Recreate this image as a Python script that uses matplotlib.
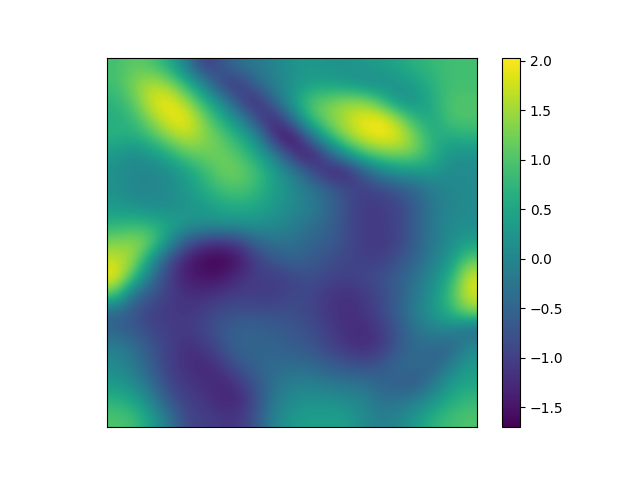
import matplotlib
matplotlib.use('Agg')
import matplotlib.pyplot as plt
import numpy as np

# values, row by row from the top
row00 = [0.9, 1.1, 1.0, 0.6, -0.1, -1.1, -0.7, -0.3, -0.2, 0.0, 0.2, 0.3, 0.2, 0.2, 0.3, 0.4, 0.5, 0.7, 0.8, 0.9, 0.9]
row01 = [0.9, 1.3, 1.6, 1.4, 0.7, 0.0, -1.0, -1.1, -0.4, -0.1, 0.2, 0.4, 0.4, 0.3, 0.1, 0.1, 0.2, 0.4, 0.7, 0.9, 0.9]
row02 = [0.7, 1.1, 1.8, 2.0, 1.5, 0.7, 0.1, -0.9, -1.3, -0.4, 0.3, 1.0, 1.2, 1.4, 1.4, 0.9, 0.2, 0.2, 0.6, 1.0, 1.0]
row03 = [0.6, 0.8, 1.4, 1.9, 2.0, 1.3, 0.6, 0.1, -0.9, -1.4, -0.3, 0.8, 1.3, 1.6, 1.95, 2.03, 1.5, 0.7, 0.5, 1.0, 1.0]
row04 = [0.7, 0.6, 0.9, 1.4, 1.7, 1.4, 1.1, 0.6, 0.1, -1.3, -1.7, -0.4, 0.7, 1.4, 1.8, 2.0, 1.9, 1.3, 0.6, 0.6, 0.7]
row05 = [0.3, 0.1, 0.3, 0.6, 1.1, 1.2, 1.2, 1.0, 0.5, -0.1, -1.1, -1.6, -0.7, 0.2, 0.9, 1.2, 1.3, 1.2, 0.7, 0.2, 0.2]
row06 = [0.2, 0.0, 0.0, 0.1, 0.4, 0.8, 1.2, 1.2, 0.9, 0.4, -0.1, -0.7, -1.3, -1.4, -0.7, -0.1, 0.2, 0.3, 0.3, 0.1, 0.1]
row07 = [0.2, 0.0, 0.0, 0.1, 0.3, 0.6, 0.9, 1.0, 0.8, 0.4, 0.1, -0.2, -0.5, -0.8, -1.0, -0.9, -0.7, -0.5, -0.1, 0.0, 0.1]
row08 = [0.3, 0.2, 0.1, 0.1, 0.2, 0.3, 0.5, 0.6, 0.5, 0.3, 0.1, -0.1, -0.4, -0.8, -1.05, -1.05, -0.95, -0.6, -0.2, 0.0, 0.1]
row09 = [0.7, 0.8, 0.7, 0.5, 0.3, 0.2, 0.2, 0.2, 0.2, 0.1, -0.1, -0.3, -0.5, -0.8, -1.05, -1.05, -0.95, -0.6, -0.2, 0.1, 0.1]
row10 = [1.3, 1.4, 1.2, 0.2, -0.7, -1.1, -1.2, -1.0, -0.5, -0.3, -0.3, -0.5, -0.6, -0.8, -1.05, -1.1, -0.95, -0.6, -0.2, 0.1, 0.4]
row11 = [1.7, 1.5, 0.3, -0.8, -1.4, -1.65, -1.7, -1.5, -1.0, -0.7, -0.5, -0.6, -0.8, -0.9, -1.0, -1.0, -0.8, -0.5, -0.1, 0.3, 1.1]
row12 = [2.0, 0.9, -0.3, -1.0, -1.4, -1.5, -1.5, -1.2, -1.0, -1.05, -0.95, -0.8, -0.9, -1.0, -0.9, -0.8, -0.6, -0.3, 0.1, 0.6, 1.8]
row13 = [1.0, -0.4, -0.7, -1.0, -1.2, -1.2, -1.1, -1.0, -1.05, -1.05, -0.9, -0.9, -1.1, -1.2, -1.1, -0.9, -0.6, -0.2, 0.2, 0.9, 1.8]
row14 = [-0.5, -0.7, -1.0, -1.1, -1.1, -1.0, -0.8, -0.8, -0.8, -0.8, -0.8, -0.9, -1.1, -1.2, -1.15, -0.9, -0.6, -0.1, 0.3, 0.7, 1.3]
row15 = [-0.5, -0.7, -0.9, -1.0, -1.1, -0.9, -0.7, -0.5, -0.5, -0.6, -0.7, -0.8, -1.0, -1.2, -1.25, -1.1, -0.7, -0.3, -0.1, 0.0, -0.5]
row16 = [-0.1, -0.3, -0.7, -1.0, -1.2, -1.1, -0.8, -0.5, -0.5, -0.5, -0.6, -0.7, -0.9, -1.1, -1.25, -1.1, -0.7, -0.4, -0.4, -0.6, 0.1]
row17 = [0.1, -0.2, -0.6, -1.0, -1.2, -1.3, -1.1, -0.7, -0.5, -0.4, -0.4, -0.4, -0.6, -0.7, -0.8, -0.7, -0.4, -0.4, -0.6, -0.1, 0.3]
row18 = [0.3, 0.1, -0.4, -0.9, -1.1, -1.2, -1.3, -1.1, -0.7, -0.3, -0.1, -0.1, -0.2, -0.3, -0.3, -0.5, -0.6, -0.7, -0.2, 0.3, 0.5]
row19 = [0.7, 0.5, 0.0, -0.7, -1.0, -1.1, -1.3, -1.3, -0.8, -0.2, 0.1, 0.2, 0.2, 0.1, 0.0, -0.3, -0.3, -0.1, 0.2, 0.6, 0.8]
row20 = [1.0, 0.9, 0.4, -0.2, -0.9, -1.0, -1.1, -1.1, -0.7, 0.0, 0.3, 0.4, 0.4, 0.4, 0.1, -0.1, 0.0, 0.3, 0.7, 0.9, 1.0]

rows = [row00, row01, row02, row03, row04, row05, row06, row07, row08, row09, row10,
        row11, row12, row13, row14, row15, row16, row17, row18, row19, row20]
z = np.array(rows)

fig, ax = plt.subplots(figsize=(6.4, 4.8), dpi=100)
im = ax.imshow(z, cmap='viridis', interpolation='bicubic', vmin=-1.7, vmax=2.03)
ax.set_xticks([])
ax.set_yticks([])
fig.colorbar(im, ax=ax)

fig.savefig('out.png', dpi=100)
